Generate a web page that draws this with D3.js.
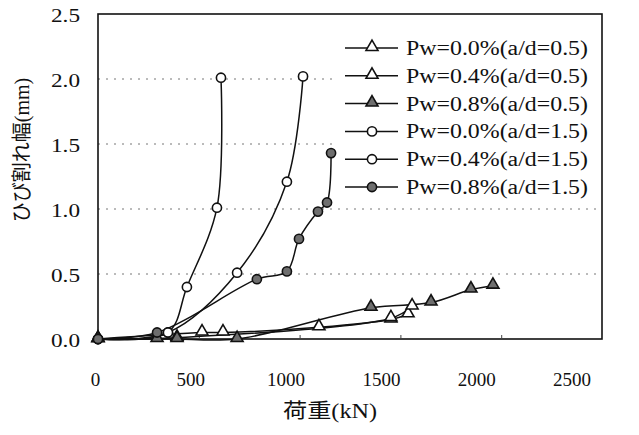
<!DOCTYPE html>
<html>
<head>
<meta charset="utf-8">
<script src="https://cdn.jsdelivr.net/npm/d3@7"></script>
<style>
  html, body { margin: 0; padding: 0; background: #fff; }
  svg { display: block; }
  text { font-family: "Liberation Serif", "Noto Sans CJK JP", serif; fill: #111; }
</style>
</head>
<body>
<svg id="chart" width="639" height="435"></svg>
<script>
// ---- data (load kN, crack width mm) ----
const xTicks = [0, 500, 1000, 1500, 2000, 2500];
const yTicks = [0.0, 0.5, 1.0, 1.5, 2.0, 2.5];
const seriesNames = [
  "Pw=0.0%(a/d=0.5)", "Pw=0.4%(a/d=0.5)", "Pw=0.8%(a/d=0.5)",
  "Pw=0.0%(a/d=1.5)", "Pw=0.4%(a/d=1.5)", "Pw=0.8%(a/d=1.5)"
];
const seriesMarkers = ["triangle", "triangle", "triangle", "circle", "circle", "circle"];
const seriesFilled = [false, false, true, false, false, true];

const pw00_ad05 = [[0, 0], [516, 0.05], [620, 0.05], [1096, 0.09], [1453, 0.15], [1538, 0.19]];
const pw04_ad05 = [[0, 0], [392, 0.01], [1453, 0.16], [1558, 0.25]];
const pw08_ad05 = [[0, 0], [293, 0.0], [392, 0.0], [690, 0.0], [1354, 0.24], [1652, 0.28], [1850, 0.38], [1959, 0.41]];
const pw00_ad15 = [[0, 0], [347, 0.05], [441, 0.40], [590, 1.01], [610, 2.01]];
const pw04_ad15 = [[0, 0], [347, 0.05], [690, 0.51], [937, 1.21], [1017, 2.02]];
const pw08_ad15 = [[0, 0], [293, 0.05], [788, 0.46], [937, 0.52], [997, 0.77], [1091, 0.98], [1136, 1.05], [1156, 1.43]];
const seriesData = [pw00_ad05, pw04_ad05, pw08_ad05, pw00_ad15, pw04_ad15, pw08_ad15];

const xTitle = "荷重(kN)";
const yTitle = "ひび割れ幅(mm)";

// ---- layout ----
const svg = d3.select("#chart");
const plot = { left: 98, top: 14, right: 602, bottom: 339 };
const x = d3.scaleLinear().domain([0, 2500]).range([plot.left, plot.right]);
const y = d3.scaleLinear().domain([0, 2.5]).range([plot.bottom, plot.top]);

// gridlines
svg.append("g").selectAll("line")
  .data(yTicks.filter(v => v > 0 && v < 2.5))
  .join("line")
  .attr("x1", plot.left).attr("x2", plot.right)
  .attr("y1", d => y(d)).attr("y2", d => y(d))
  .attr("stroke", "#777").attr("stroke-width", 1)
  .attr("stroke-dasharray", "2,6");

// frame
svg.append("rect")
  .attr("x", plot.left).attr("y", plot.top)
  .attr("width", plot.right - plot.left).attr("height", plot.bottom - plot.top)
  .attr("fill", "none").attr("stroke", "#111").attr("stroke-width", 1.6);

// x axis
const xAxis = svg.append("g")
  .attr("transform", `translate(0,${plot.bottom})`)
  .call(d3.axisBottom(x).tickValues(xTicks).tickSize(-4).tickPadding(0).tickFormat(d3.format("d")));
xAxis.select(".domain").remove();
xAxis.selectAll(".tick line").attr("stroke", "#444").attr("stroke-width", 1);
xAxis.selectAll(".tick text")
  .attr("y", 47).attr("dy", 0)
  .attr("dx", d => -3 - d * 0.011)
  .style("font-size", "19px").style("font-family", "'Liberation Serif', serif").attr("fill", "#111");

// y axis
const yAxis = svg.append("g")
  .attr("transform", `translate(${plot.left},0)`)
  .call(d3.axisLeft(y).tickValues(yTicks).tickSize(0).tickPadding(18).tickFormat(d3.format(".1f")));
yAxis.select(".domain").remove();
yAxis.selectAll(".tick text")
  .attr("dy", "0.38em")
  .attr("textLength", 29).attr("lengthAdjust", "spacingAndGlyphs")
  .style("font-size", "19px").style("font-family", "'Liberation Serif', serif").attr("fill", "#111");

// axis titles
svg.append("text")
  .attr("x", 330).attr("y", 418)
  .attr("text-anchor", "middle")
  .attr("textLength", 94).attr("lengthAdjust", "spacingAndGlyphs")
  .style("font-size", "20px")
  .style("font-family", "'Liberation Serif', 'Noto Sans CJK JP', serif")
  .text(xTitle);

svg.append("text")
  .attr("transform", `translate(29,150) rotate(-90)`)
  .attr("text-anchor", "middle")
  .style("font-size", "20px")
  .style("font-family", "'Liberation Serif', 'Noto Sans CJK JP', serif")
  .text(yTitle);

// series lines
const line = d3.line()
  .x(d => x(d[0])).y(d => y(d[1]))
  .curve(d3.curveCatmullRom.alpha(0.5));

const gSeries = svg.append("g");
seriesData.forEach((data, i) => {
  gSeries.append("path")
    .datum(data)
    .attr("d", line)
    .attr("fill", "none")
    .attr("stroke", "#111")
    .attr("stroke-width", 1.5);
});

const symTri = d3.symbol().type(d3.symbolTriangle).size(62);
const symCir = d3.symbol().type(d3.symbolCircle).size(66);
function markerPath(i) { return seriesMarkers[i] === "triangle" ? symTri() : symCir(); }
function markerFill(i) { return seriesFilled[i] ? "#6e6e6e" : "#fff"; }

seriesData.forEach((data, i) => {
  gSeries.append("g").selectAll("path")
    .data(data)
    .join("path")
    .attr("transform", d => `translate(${x(d[0])},${y(d[1]) - (seriesMarkers[i] === "triangle" ? 1 : 0)})`)
    .attr("d", markerPath(i))
    .attr("fill", markerFill(i))
    .attr("stroke", "#111")
    .attr("stroke-width", 1.6);
});

// legend
const legend = svg.append("g");
legend.append("rect")
  .attr("x", 337).attr("y", 30).attr("width", 263).attr("height", 172)
  .attr("fill", "#fff");
const legendRows = legend.selectAll("g.row")
  .data(seriesNames)
  .join("g")
  .attr("class", "row")
  .attr("transform", (d, i) => `translate(0,${48 + i * 27.8})`);
legendRows.append("line")
  .attr("x1", 345).attr("x2", 398).attr("y1", 0).attr("y2", 0)
  .attr("stroke", "#111").attr("stroke-width", 1.5);
legendRows.append("path")
  .attr("transform", (d, i) => `translate(372,${seriesMarkers[i] === "triangle" ? -1 : 0})`)
  .attr("d", (d, i) => markerPath(i))
  .attr("fill", (d, i) => markerFill(i))
  .attr("stroke", "#111").attr("stroke-width", 1.6);
legendRows.append("text")
  .attr("x", 406).attr("y", 0).attr("dy", "0.35em")
  .attr("textLength", 182).attr("lengthAdjust", "spacingAndGlyphs")
  .style("font-size", "20px")
  .text(d => d);
</script>
</body>
</html>
